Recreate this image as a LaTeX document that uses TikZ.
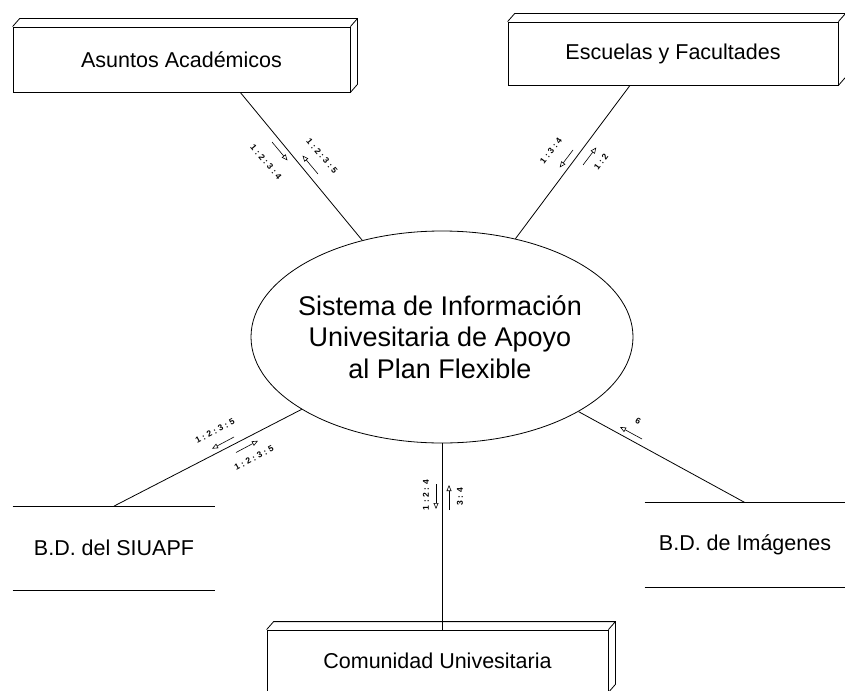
\documentclass[tikz,border=0pt]{standalone}
\usepackage{fontspec}
\setmainfont{Liberation Sans}
\usetikzlibrary{shapes.geometric,arrows.meta,calc}
\newcommand\tcol{\hspace{2.6pt}:\hspace{2.6pt}}
\begin{document}
\begin{tikzpicture}[x=1pt,y=-1pt,
  line width=0.8pt,
  entity/.style={draw, rectangle, inner sep=0pt, font=\fontsize{21.5}{24}\selectfont},
  store/.style={rectangle, inner sep=0pt, minimum width=202pt, minimum height=83pt, font=\fontsize{21.5}{24}\selectfont},
  flow/.style={line width=0.6pt, -{Triangle[open,length=6pt,width=5pt]}},
  tag/.style={font=\fontsize{8.5}{9}\selectfont\bfseries, inner sep=0pt},
]
\useasboundingbox (0,0) rectangle (845,690);
\clip (0,0) rectangle (845,690);

% central process
\node[draw, ellipse, minimum width=382pt, minimum height=212pt, inner sep=0pt] (sys) at (442,337) {};
\node[align=center, font=\fontsize{27}{31.5}\selectfont, inner sep=0pt] (systext) at (440,337)
  {Sistema de Información\\Univesitaria de Apoyo\\al Plan Flexible};

% external entities
\node[entity, minimum width=337pt, minimum height=65pt] (aa) at (181.5,59.5) {Asuntos Académicos};
\draw (aa.north west) -- ++(7pt,8pt) -- ($(aa.north east)+(7pt,8pt)$) -- ($(aa.south east)+(7pt,8pt)$) -- (aa.south east)
      (aa.north east) -- ++(7pt,8pt);

\node[entity, minimum width=330pt, minimum height=63pt] (ef) at (673,53.5) {Escuelas y Facultades};
\draw (ef.north west) -- ++(7pt,8pt) -- ($(ef.north east)+(7pt,8pt)$) -- ($(ef.south east)+(7pt,8pt)$) -- (ef.south east)
      (ef.north east) -- ++(7pt,8pt);

\node[entity, minimum width=341pt, minimum height=62pt] (cu) at (437.5,661) {Comunidad Univesitaria};
\draw (cu.north west) -- ++(7pt,8pt) -- ($(cu.north east)+(7pt,8pt)$) -- ($(cu.south east)+(7pt,8pt)$) -- (cu.south east)
      (cu.north east) -- ++(7pt,8pt);

% data stores
\node[store] (db1) at (114,548) {B.D. del SIUAPF};
\draw (db1.north west) -- (db1.north east) (db1.south west) -- (db1.south east);
\node[store, minimum width=200pt, minimum height=84pt] (db2) at (745,545) {B.D. de Imágenes};
\draw (db2.north west) -- (db2.north east) (db2.south west) -- (db2.south east);

% connectors
\coordinate (aaout) at ($(aa.south west)!0.674!(aa.south east)$);
\coordinate (efout) at ($(ef.south west)!0.37!(ef.south east)$);
\draw (aaout) -- (sys);
\draw (efout) -- (sys);
\draw (db1.north) -- (sys);
\draw (db2.north) -- (sys);
\draw (sys.south) -- (sys.south |- cu.north);

% flows: Asuntos Académicos
\draw[flow] (272,142) -- (287.5,160.5);
\draw[flow] (318,174) -- (302.5,155.5);
\node[tag, rotate=-50] (t1) at (266,162) {1\tcol 2\tcol 3\tcol 4};
\node[tag, rotate=-50] (t2) at (322,156) {1\tcol 2\tcol 3\tcol 5};

% flows: Escuelas y Facultades
\draw[flow] (573,150) -- (559.7,167.5);
\draw[flow] (583,165) -- (596.3,147.5);
\node[tag, rotate=53] (t3) at (551,151) {1\tcol 3\tcol 4};
\node[tag, rotate=53] (t4) at (601,162) {1\tcol 2};

% flows: B.D. del SIUAPF
\draw[flow] (234,437) -- (212,448.7);
\draw[flow] (236,452.5) -- (258,440.8);
\node[tag, rotate=28] (t5) at (215,431) {1\tcol 2\tcol 3\tcol 5};
\node[tag, rotate=28] (t6) at (254,458) {1\tcol 2\tcol 3\tcol 5};

% flows: B.D. de Imágenes
\draw[flow] (642,439) -- (620,427);
\node[tag, rotate=-29] (t7) at (638,421) {6};

% flows: Comunidad Univesitaria
\draw[flow] (436,484) -- (436,509);
\draw[flow] (449,510) -- (449,485);
\node[tag, rotate=90] (t8) at (426,495) {1\tcol 2\tcol 4};
\node[tag, rotate=90] (t9) at (460,497) {3\tcol 4};
\end{tikzpicture}
\end{document}
